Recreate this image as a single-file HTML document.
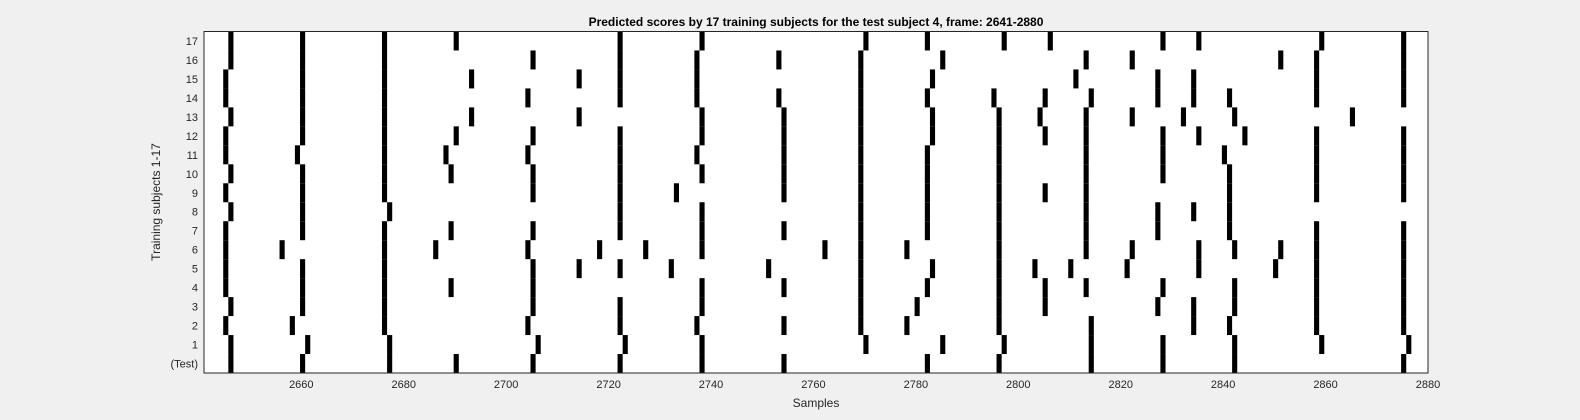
<!DOCTYPE html>
<html><head><meta charset="utf-8"><style>
html,body{margin:0;padding:0;background:#f0f0f0;}
svg{display:block;font-family:"Liberation Sans",Arial,sans-serif;}
</style></head><body>
<svg id="chart" width="1580" height="420" xmlns="http://www.w3.org/2000/svg">
<rect x="0" y="0" width="1580" height="420" fill="#f0f0f0"/>
<text x="816" y="26" text-anchor="middle" font-size="12" font-weight="bold" fill="#000">Predicted scores by 17 training subjects for the test subject 4, frame: 2641-2880</text>
<rect x="204" y="31.5" width="1224" height="341.5" fill="#fff"/>
<g id="marks"></g>
<g id="xticks"></g>
<g id="yticks"></g>
<rect x="204" y="31.5" width="1224" height="341.5" fill="none" stroke="#262626" stroke-width="1"/>
<text x="816" y="407" text-anchor="middle" font-size="12" fill="#262626">Samples</text>
<text x="0" y="0" transform="translate(160,202) rotate(-90)" text-anchor="middle" font-size="12" fill="#262626">Training subjects 1-17</text>
</svg>
<script>
const rowLabels = ["17","16","15","14","13","12","11","10","9","8","7","6","5","4","3","2","1","(Test)"];
const xTickValues = [2660,2680,2700,2720,2740,2760,2780,2800,2820,2840,2860,2880];
const row17 = [2646,2660,2676,2690,2722,2738,2770,2782,2797,2806,2828,2835,2859,2875];
const row16 = [2646,2660,2676,2705,2722,2737,2753,2769,2785,2813,2822,2851,2858,2875];
const row15 = [2645,2660,2676,2693,2714,2722,2737,2769,2783,2811,2827,2834,2858,2875];
const row14 = [2645,2660,2676,2704,2722,2737,2753,2769,2782,2795,2805,2814,2827,2834,2841,2858,2875];
const row13 = [2646,2660,2676,2693,2714,2738,2754,2769,2783,2796,2804,2813,2822,2832,2842,2865];
const row12 = [2645,2660,2676,2690,2705,2722,2738,2754,2769,2783,2796,2805,2813,2828,2835,2844,2858,2875];
const row11 = [2645,2659,2676,2688,2704,2722,2737,2754,2769,2782,2796,2813,2828,2840,2858,2875];
const row10 = [2646,2660,2676,2689,2705,2722,2738,2754,2769,2782,2796,2813,2828,2841,2858,2875];
const row9 = [2645,2660,2676,2705,2722,2733,2754,2769,2782,2796,2805,2813,2841,2858,2875];
const row8 = [2646,2660,2677,2722,2738,2769,2782,2796,2813,2827,2834,2841];
const row7 = [2645,2660,2676,2689,2705,2722,2738,2754,2769,2782,2796,2813,2827,2841,2858,2875];
const row6 = [2645,2656,2676,2686,2704,2718,2727,2738,2762,2769,2778,2796,2813,2822,2835,2842,2851,2858,2875];
const row5 = [2645,2660,2676,2705,2714,2722,2732,2751,2769,2783,2796,2803,2810,2821,2835,2850,2858,2875];
const row4 = [2645,2660,2676,2689,2705,2738,2754,2769,2782,2796,2805,2813,2828,2842,2858,2875];
const row3 = [2646,2660,2676,2705,2722,2738,2769,2780,2796,2805,2827,2834,2842,2858,2875];
const row2 = [2645,2658,2676,2704,2722,2737,2754,2769,2778,2796,2814,2834,2841,2858,2875];
const row1 = [2646,2661,2677,2706,2723,2738,2770,2785,2797,2814,2828,2842,2859,2876];
const rowTest = [2646,2660,2677,2690,2705,2722,2738,2754,2782,2796,2814,2828,2842,2875];
const rowsData = [row17,row16,row15,row14,row13,row12,row11,row10,row9,row8,row7,row6,row5,row4,row3,row2,row1,rowTest];

const NS = "http://www.w3.org/2000/svg";
const X0 = 204, X1 = 1428, Y0 = 31.5, Y1 = 373, XMIN = 2641, XMAX = 2880;
function xScale(v){ return X0 + (v - XMIN) * (X1 - X0) / (XMAX - XMIN); }
const rowH = (Y1 - Y0) / rowLabels.length;
function yScale(i){ return Y0 + i * rowH; }

const marks = document.getElementById('marks');
rowsData.forEach((arr, i) => {
  arr.forEach(v => {
    const r = document.createElementNS(NS, 'rect');
    const xa = Math.max(X0, xScale(v - 0.25));
    const xb = Math.min(X1, xScale(v + 0.75));
    r.setAttribute('x', xa.toFixed(2));
    r.setAttribute('y', yScale(i).toFixed(2));
    r.setAttribute('width', (xb - xa).toFixed(2));
    r.setAttribute('height', rowH.toFixed(2));
    r.setAttribute('fill', '#000');
    
    
    marks.appendChild(r);
  });
});

const xt = document.getElementById('xticks');
xTickValues.forEach(v => {
  const t = document.createElementNS(NS, 'text');
  t.setAttribute('x', xScale(v).toFixed(2));
  t.setAttribute('y', '388');
  t.setAttribute('text-anchor', 'middle');
  t.setAttribute('font-size', '11');
  t.setAttribute('fill', '#262626');
  
  
  t.textContent = v;
  xt.appendChild(t);
});

const yt = document.getElementById('yticks');
rowLabels.forEach((lab, i) => {
  const t = document.createElementNS(NS, 'text');
  t.setAttribute('x', '198');
  t.setAttribute('y', (yScale(i) + rowH / 2 + 4).toFixed(2));
  t.setAttribute('text-anchor', 'end');
  t.setAttribute('font-size', '11');
  t.setAttribute('fill', '#262626');
  
  
  t.textContent = lab;
  yt.appendChild(t);
});
</script>
</body></html>
